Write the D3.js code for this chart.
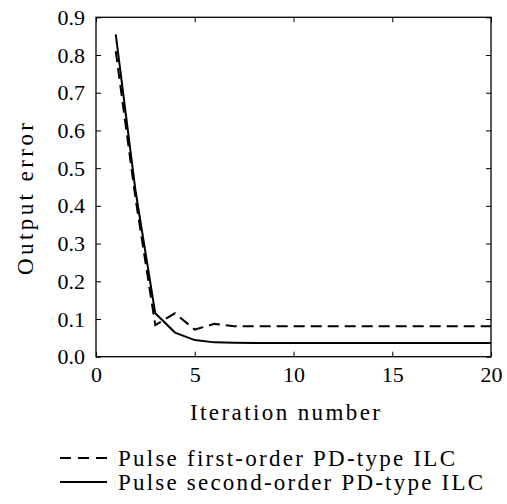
<!DOCTYPE html>
<html><head><meta charset="utf-8">
<script src="https://cdn.jsdelivr.net/npm/d3@7"></script>
</head><body style="margin:0">
<svg id="c" width="507" height="504"></svg>
<script>
const iterations = d3.range(1, 21);
const firstOrder = [0.81, 0.42, 0.084, 0.115, 0.072, 0.087, 0.081, 0.081, 0.081, 0.081, 0.081, 0.081, 0.081, 0.081, 0.081, 0.081, 0.081, 0.081, 0.081, 0.081];
const secondOrder = [0.855, 0.44, 0.115, 0.064, 0.044, 0.038, 0.037, 0.036, 0.036, 0.036, 0.036, 0.036, 0.036, 0.036, 0.036, 0.036, 0.036, 0.036, 0.036, 0.036];
const xTicks = [0, 5, 10, 15, 20];
const yTicks = [0, 0.1, 0.2, 0.3, 0.4, 0.5, 0.6, 0.7, 0.8, 0.9];
const seriesNames = ["Pulse first-order PD-type ILC", "Pulse second-order PD-type ILC"];

const FONT = "Liberation Serif";
const svg = d3.select("#c");
const L = 96, R = 491, T = 17.3, B = 356.7;
const x = d3.scaleLinear().domain([0, 20]).range([L, R]);
const y = d3.scaleLinear().domain([0, 0.9]).range([B, T]);
const serif = s => s.attr("font-family", FONT).style("font-family", FONT).attr("fill", "#000");

const tickStyle = g => { g.attr("font-family", FONT); g.select(".domain").remove(); g.selectAll("line").attr("stroke", "#000").attr("stroke-width", 1); };

// axes
svg.append("g").attr("transform", `translate(0,${B})`)
  .call(d3.axisBottom(x).tickValues(xTicks).tickSize(-5).tickPadding(10).tickFormat(d3.format("d")))
  .call(tickStyle)
  .selectAll("text").call(serif).attr("font-size", 22).attr("dy", "0.71em");
svg.append("g").attr("transform", `translate(0,${T})`)
  .call(d3.axisTop(x).tickValues(xTicks).tickSize(-5).tickFormat(""))
  .call(tickStyle);
svg.append("g").attr("transform", `translate(${L},0)`)
  .call(d3.axisLeft(y).tickValues(yTicks).tickSize(-5).tickPadding(11).tickFormat(d3.format(".1f")))
  .call(tickStyle)
  .selectAll("text").call(serif).attr("font-size", 22);
svg.append("g").attr("transform", `translate(${R},0)`)
  .call(d3.axisRight(y).tickValues(yTicks).tickSize(-5).tickFormat(""))
  .call(tickStyle);

svg.append("rect").attr("x", L).attr("y", T).attr("width", R - L).attr("height", B - T)
  .attr("fill", "none").attr("stroke", "#000").attr("stroke-width", 1.3);

const line = d3.line().x((d, i) => x(iterations[i])).y(d => y(d));
svg.append("path").datum(firstOrder).attr("d", line).attr("fill", "none")
  .attr("stroke", "#000").attr("stroke-width", 2).attr("stroke-dasharray", "11,6");
svg.append("path").datum(secondOrder).attr("d", line).attr("fill", "none")
  .attr("stroke", "#000").attr("stroke-width", 2);

// labels
svg.append("text").attr("x", 190).attr("y", 420).call(serif)
  .attr("font-size", 23).attr("textLength", 190).attr("lengthAdjust", "spacing").text("Iteration number");
svg.append("text").attr("transform", "translate(33,275) rotate(-90)").call(serif)
  .attr("font-size", 23).attr("textLength", 152).attr("lengthAdjust", "spacing").text("Output error");

// legend
const leg = svg.append("g");
const legY = [458, 482];
const legW = [337, 365];
const dashes = ["11,7", null];
seriesNames.forEach((n, i) => {
  const l = leg.append("line").attr("x1", 60).attr("x2", 107).attr("y1", legY[i]).attr("y2", legY[i])
    .attr("stroke", "#000").attr("stroke-width", 2);
  if (dashes[i]) l.attr("stroke-dasharray", dashes[i]);
  leg.append("text").attr("x", 118).attr("y", legY[i] + 8).call(serif).attr("font-size", 23)
    .attr("textLength", legW[i]).attr("lengthAdjust", "spacing").text(n);
});
</script>
</body></html>
